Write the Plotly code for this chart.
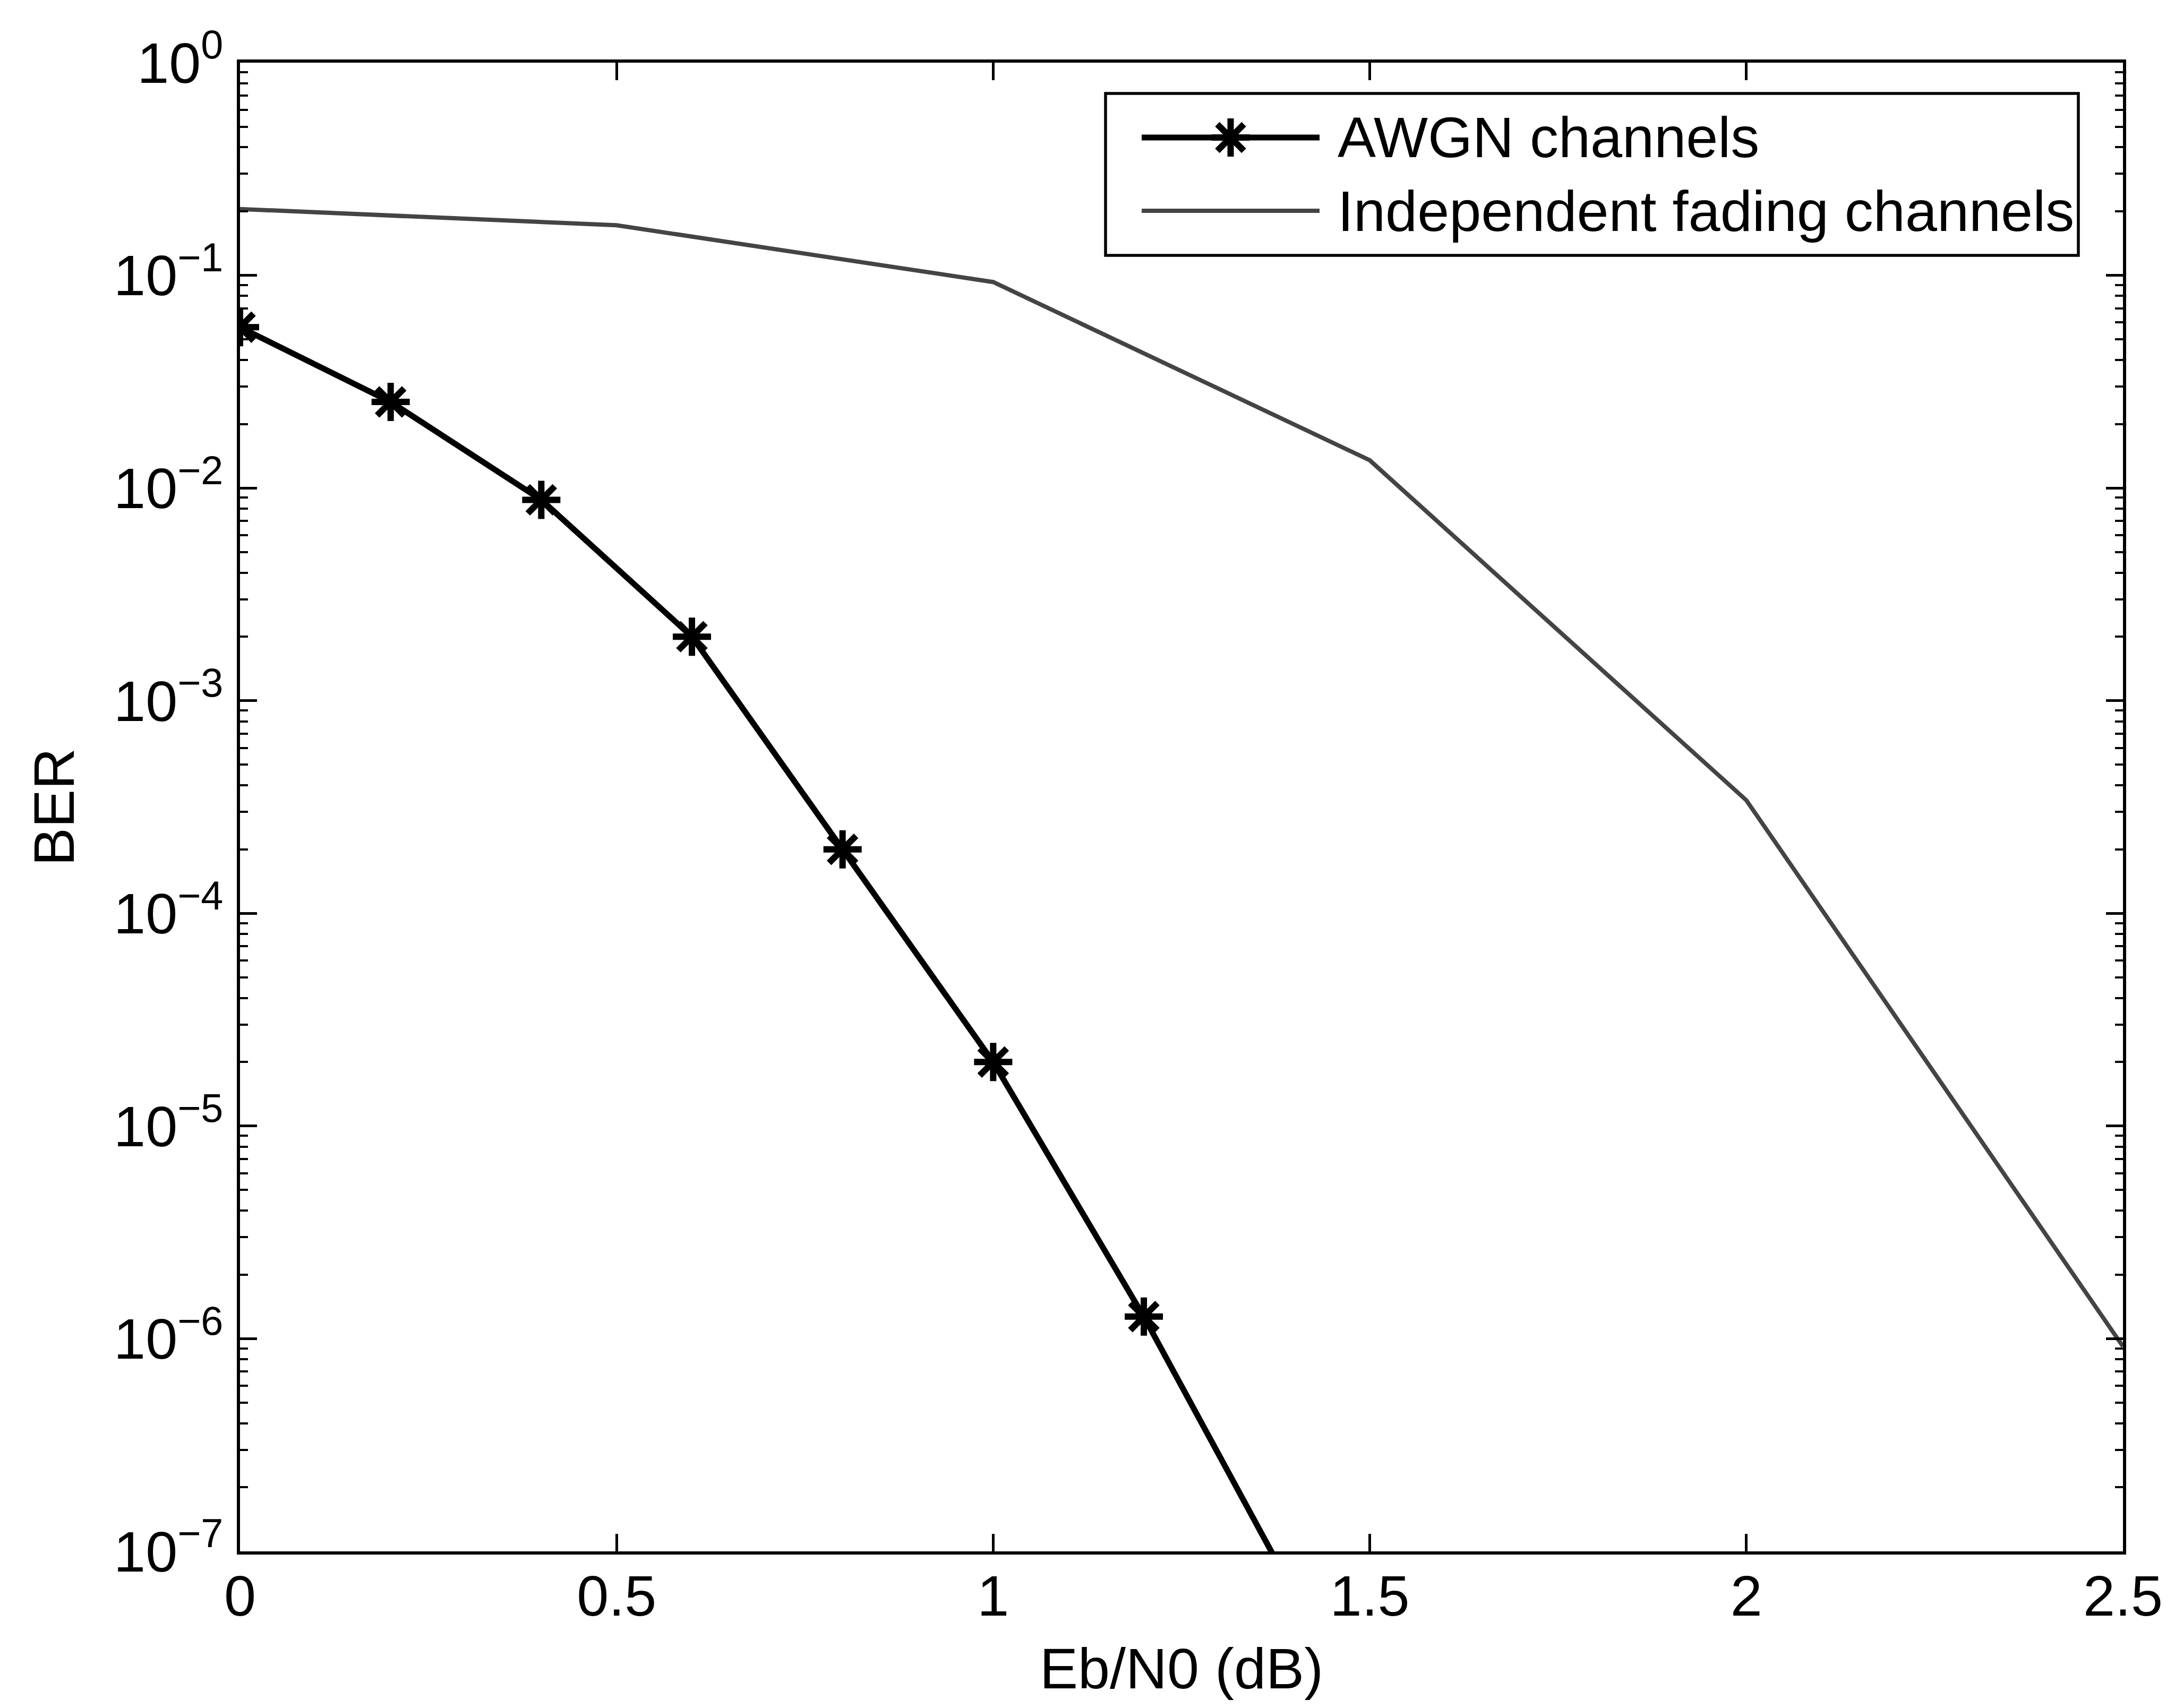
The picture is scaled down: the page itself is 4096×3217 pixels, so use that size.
import plotly.graph_objects as go

# ---------------- data ----------------
awgn_x = [0.0, 0.2, 0.4, 0.6, 0.8, 1.0, 1.2, 1.4]
awgn_ber = [0.057, 0.0254, 0.0088, 0.0020, 2.0e-4, 2.0e-5, 1.27e-6, 6.3e-8]

fading_x = [0.0, 0.5, 1.0, 1.5, 2.0, 2.5]
fading_ber = [0.205, 0.172, 0.093, 0.0135, 3.4e-4, 9.2e-7]

x_ticks = [0, 0.5, 1, 1.5, 2, 2.5]
x_ticktext = ["0", "0.5", "1", "1.5", "2", "2.5"]
y_exponents = [0, -1, -2, -3, -4, -5, -6, -7]

series_names = ["AWGN channels", "Independent fading channels"]
x_title = "Eb/N0 (dB)"
y_title = "BER"

# ---------------- layout constants (target pixels) ----------------
W, H = 4096, 3217
L, R, T, B = 452, 3998, 118, 2922
FONT = "Liberation Sans, Arial, Helvetica, sans-serif"
FS = 108


def px2x(px):
    return (px - L) / (R - L)


def py2y(py):
    return (B - py) / (B - T)


y_tickvals = [10.0 ** e for e in y_exponents]
y_ticktext = ["10<sup>%s</sup>" % (str(e).replace("-", "\u2212")) for e in y_exponents]
y_minor = [m * 10.0 ** e for e in y_exponents[1:] for m in range(2, 10)]

fig = go.Figure()
fig.add_trace(go.Scatter(
    x=fading_x, y=fading_ber, mode="lines", name=series_names[1],
    line=dict(color="#444444", width=8),
    showlegend=False,
))
fig.add_trace(go.Scatter(
    x=awgn_x, y=awgn_ber, mode="lines+markers", name=series_names[0],
    line=dict(color="black", width=11),
    marker=dict(symbol="asterisk-open", size=60, color="black",
                line=dict(color="black", width=12)),
    cliponaxis=True, showlegend=False,
))

axis_common = dict(
    showline=True, linecolor="black", linewidth=6, mirror="allticks",
    ticks="inside", tickcolor="black", tickwidth=5,
    showgrid=False, zeroline=False,
    tickfont=dict(family=FONT, size=FS, color="black"),
    title_font=dict(family=FONT, size=FS, color="black"),
)

fig.update_xaxes(
    range=[0, 2.5], tickmode="array", tickvals=x_ticks, ticktext=x_ticktext,
    ticklen=33, title_text=x_title, title_standoff=42,
    ticklabelstandoff=-15, **axis_common,
)
fig.update_yaxes(
    type="log", range=[-7, 0], tickmode="array", tickvals=y_tickvals,
    ticktext=y_ticktext, ticklen=32, title_text=y_title, title_standoff=40,
    ticklabelstandoff=4,
    minor=dict(ticks="inside", ticklen=15, tickcolor="black", tickwidth=4,
               tickmode="array", tickvals=y_minor, showgrid=False),
    **axis_common,
)

# ---------------- legend (drawn box, samples and labels) ----------------
leg_l, leg_r, leg_t, leg_b = 2082, 3914, 176, 481
row_y = [259, 397]
samp_l, samp_r = 2150, 2485
text_x = 2517

shapes = [dict(type="rect", xref="paper", yref="paper",
               x0=px2x(leg_l), x1=px2x(leg_r), y0=py2y(leg_b), y1=py2y(leg_t),
               line=dict(color="black", width=5.5), fillcolor="white", layer="above")]
shapes.append(dict(type="line", xref="paper", yref="paper",
                   x0=px2x(samp_l), x1=px2x(samp_r), y0=py2y(row_y[0]), y1=py2y(row_y[0]),
                   line=dict(color="black", width=11), layer="above"))
shapes.append(dict(type="line", xref="paper", yref="paper",
                   x0=px2x(samp_l), x1=px2x(samp_r), y0=py2y(row_y[1]), y1=py2y(row_y[1]),
                   line=dict(color="#444444", width=8), layer="above"))
rs, rc = 36, 25
star_path = ("M0,%d V%d M%d,0 H%d M%d,%d L%d,%d M%d,%d L%d,%d"
             % (rs, -rs, rs, -rs, rc, rc, -rc, -rc, rc, -rc, -rc, rc))
shapes.append(dict(type="path", xref="paper", yref="paper",
                   xsizemode="pixel", ysizemode="pixel",
                   xanchor=px2x((samp_l + samp_r) / 2), yanchor=py2y(row_y[0]),
                   path=star_path, line=dict(color="black", width=12), layer="above"))

annotations = []
for name, ry in zip(series_names, row_y):
    annotations.append(dict(xref="paper", yref="paper", x=px2x(text_x), y=py2y(ry),
                            xanchor="left", yanchor="middle", showarrow=False,
                            text=name, font=dict(family=FONT, size=FS, color="black")))

fig.update_layout(
    width=W, height=H,
    margin=dict(l=L, r=W - R, t=T, b=H - B, pad=0),
    paper_bgcolor="white", plot_bgcolor="white",
    shapes=shapes, annotations=annotations,
    showlegend=False,
    font=dict(family=FONT, size=FS, color="black"),
)

fig.write_html("out.html")
